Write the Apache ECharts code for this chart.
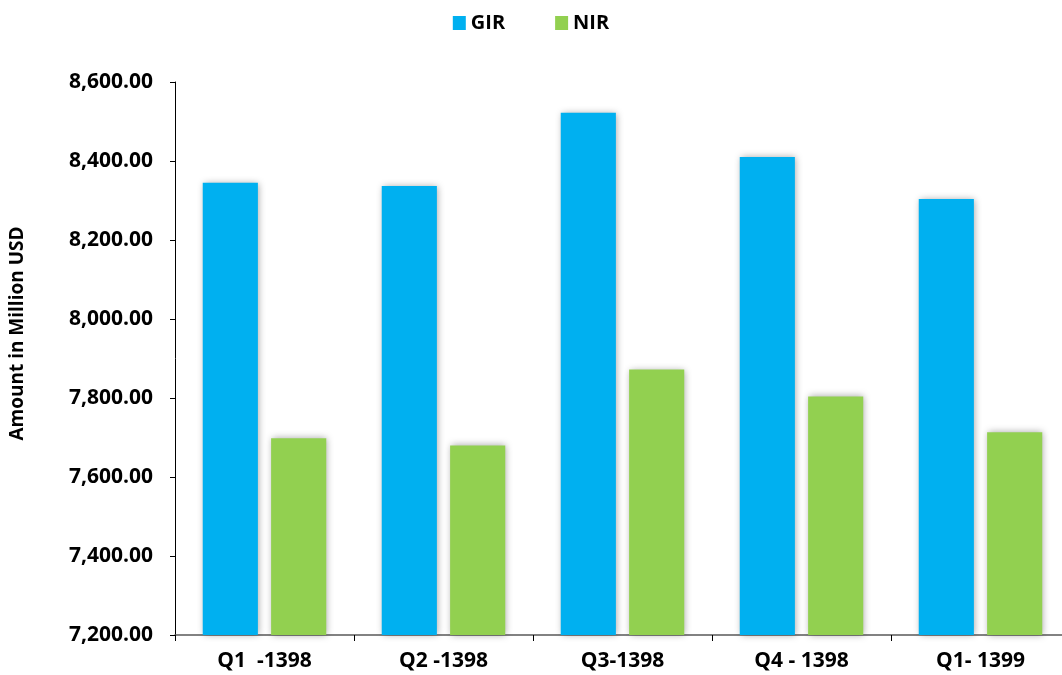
<!DOCTYPE html>
<html>
<head>
<meta charset="utf-8">
<script src="https://cdn.jsdelivr.net/npm/echarts@6/dist/echarts.min.js"></script>
<style>
  html, body { margin: 0; padding: 0; background: #fff; }
  #chart { width: 1062px; height: 675px; }
</style>
</head>
<body>
<div id="chart"></div>
<script>
// 季度类别
const quarters = ['Q1  -1398', 'Q2 -1398', 'Q3-1398', 'Q4 - 1398', 'Q1- 1399']
// 系列数值（百万美元）
const girValues = [8345, 8337, 8522, 8410, 8304]
const nirValues = [7698, 7680, 7872, 7804, 7713]

const font = '"Open Sans", "DejaVu Sans", sans-serif'

const chart = echarts.init(document.getElementById('chart'))

const barShadow = {
  shadowBlur: 7,
  shadowColor: 'rgba(0,0,0,0.35)',
  shadowOffsetX: 1,
  shadowOffsetY: 0
}

chart.setOption({
  animation: false,
  legend: {
    top: 8,
    left: 'center',
    itemWidth: 13,
    itemHeight: 14,
    itemGap: 50,
    icon: 'rect',
    textStyle: { fontFamily: font, fontWeight: 'bold', fontSize: 20, color: '#000' },
    data: ['GIR', 'NIR']
  },
  grid: { left: 175, right: -8, top: 82, bottom: 40, outerBoundsMode: 'none', containLabel: false },
  xAxis: {
    type: 'category',
    data: quarters,
    axisLine: { lineStyle: { color: '#595959', width: 1.5 } },
    axisTick: { show: true, length: 6, lineStyle: { color: '#000' } },
    axisLabel: { fontFamily: font, fontWeight: 'bold', fontSize: 21, color: '#000', margin: 16 }
  },
  yAxis: {
    type: 'value',
    min: 7200,
    max: 8600,
    interval: 200,
    name: 'Amount in Million USD',
    nameLocation: 'middle',
    nameGap: 148,
    nameTextStyle: {
      fontFamily: font, fontWeight: 'bold', fontSize: 19, color: '#000',
      padding: [0, 0, 0, 50]
    },
    splitLine: { show: false },
    axisLine: { show: true, lineStyle: { color: '#000' } },
    axisTick: { show: true, length: 5, lineStyle: { color: '#000' } },
    axisLabel: {
      fontFamily: font, fontWeight: 'bold', fontSize: 21, color: '#000', margin: 22,
      formatter: v => v.toLocaleString('en-US', { minimumFractionDigits: 2, maximumFractionDigits: 2 })
    }
  },
  series: [
    {
      name: 'GIR',
      type: 'bar',
      data: girValues,
      barGap: '24%',
      barCategoryGap: '31%',
      itemStyle: Object.assign({ color: '#00B0F0' }, barShadow)
    },
    {
      name: 'NIR',
      type: 'bar',
      data: nirValues,
      itemStyle: Object.assign({ color: '#92D050' }, barShadow)
    }
  ]
})
</script>
</body>
</html>
